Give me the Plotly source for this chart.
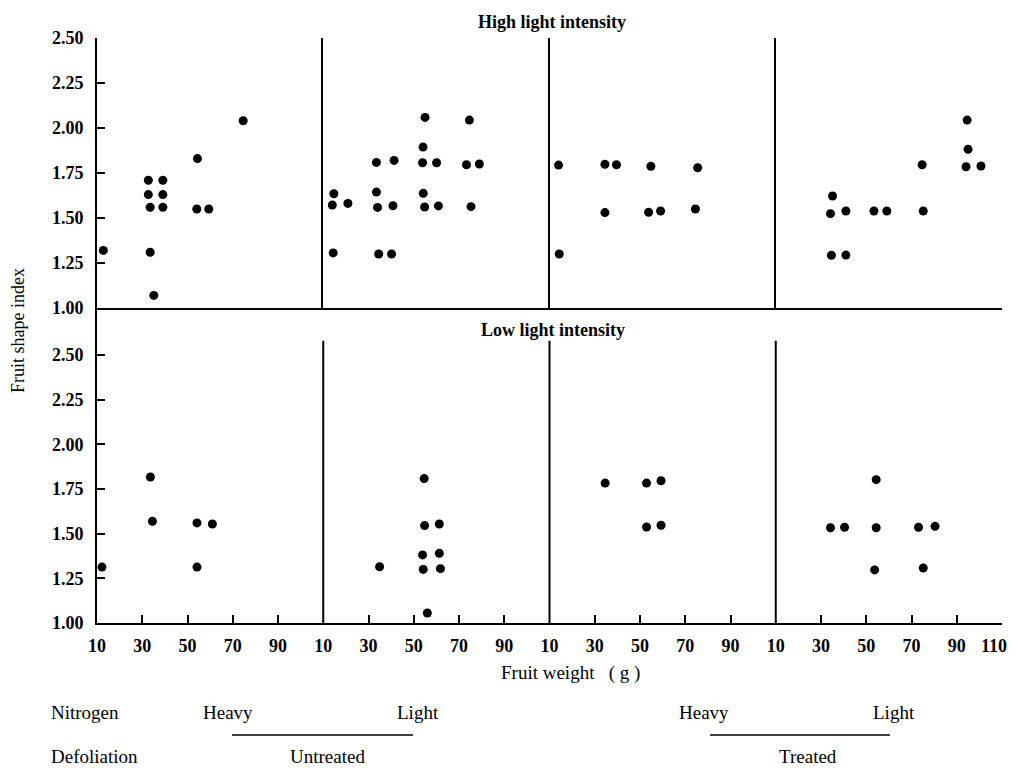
import plotly.graph_objects as go
from plotly.subplots import make_subplots

# ---------------- data (fruit weight g, fruit shape index) ----------------
# columns: Untreated/Heavy N, Untreated/Light N, Treated/Heavy N, Treated/Light N
hi_1_x = [12.8, 32.7, 39.1, 32.7, 39.1, 33.5, 39.1, 33.5, 35.1, 54.4, 54.1, 59.4, 74.6]
hi_1_y = [1.32, 1.71, 1.71, 1.63, 1.63, 1.56, 1.56, 1.31, 1.07, 1.83, 1.55, 1.55, 2.04]

hi_2_x = [14.7, 14.0, 20.9, 14.4, 33.5, 41.3, 33.5, 34.0, 40.8, 34.5, 40.2,
          55.0, 54.1, 53.9, 60.1, 54.2, 54.8, 60.9, 74.6, 73.3, 79.0, 75.3]
hi_2_y = [1.635, 1.572, 1.581, 1.306, 1.809, 1.82, 1.644, 1.559, 1.568, 1.30, 1.30,
          2.059, 1.894, 1.807, 1.807, 1.637, 1.561, 1.567, 2.044, 1.796, 1.80, 1.563]

hi_3_x = [14.0, 14.3, 34.5, 39.6, 34.5, 54.8, 53.8, 59.1, 75.5, 74.5]
hi_3_y = [1.794, 1.30, 1.798, 1.796, 1.53, 1.787, 1.532, 1.539, 1.779, 1.55]

hi_4_x = [35.1, 34.2, 41.0, 34.6, 41.0, 53.4, 59.1, 74.7, 75.2, 94.6, 95.0, 94.1, 100.7]
hi_4_y = [1.622, 1.524, 1.539, 1.293, 1.294, 1.539, 1.539, 1.796, 1.539, 2.044, 1.882, 1.785, 1.789]

lo_1_x = [12.2, 33.6, 34.5, 54.2, 61.0, 54.2]
lo_1_y = [1.313, 1.817, 1.569, 1.560, 1.554, 1.313]

lo_2_x = [54.6, 54.8, 61.3, 53.9, 61.3, 54.2, 61.8, 34.9, 56.0]
lo_2_y = [1.808, 1.545, 1.554, 1.381, 1.39, 1.30, 1.304, 1.315, 1.056]

lo_3_x = [34.6, 52.9, 59.3, 52.9, 59.3]
lo_3_y = [1.783, 1.783, 1.796, 1.537, 1.547]

lo_4_x = [54.4, 34.2, 40.4, 54.4, 73.1, 80.4, 53.7, 75.2]
lo_4_y = [1.802, 1.533, 1.536, 1.533, 1.536, 1.541, 1.297, 1.308]

y_ticks = [1.00, 1.25, 1.50, 1.75, 2.00, 2.25, 2.50]
x_ticks = [10, 30, 50, 70, 90]
x_tick_end = 110

row_titles = ["High light intensity", "Low light intensity"]
nitrogen_labels = ["Heavy", "Light", "Heavy", "Light"]
defoliation_labels = ["Untreated", "Treated"]

# ---------------- figure ----------------
# page body has an 8px margin on every side; keep the page inside the window
OFF = 8
W, H = 1018 - 2 * OFF, 774 - 2 * OFF
ML, MT = 97 - OFF, 38 - OFF
MR = (1018 - OFF) - 1002
MB = (774 - OFF) - 623
PW, PH = W - ML - MR, H - MT - MB

def fx(px):  # window pixel -> paper
    return (px - OFF - ML) / PW

def fy(py):
    return (H - MB - (py - OFF)) / PH

fig = make_subplots(rows=2, cols=4, horizontal_spacing=0, vertical_spacing=0,
                    row_heights=[270, 315])

panels = [
    (1, 1, hi_1_x, hi_1_y), (1, 2, hi_2_x, hi_2_y), (1, 3, hi_3_x, hi_3_y), (1, 4, hi_4_x, hi_4_y),
    (2, 1, lo_1_x, lo_1_y), (2, 2, lo_2_x, lo_2_y), (2, 3, lo_3_x, lo_3_y), (2, 4, lo_4_x, lo_4_y),
]
for r, c, xs, ys in panels:
    fig.add_trace(go.Scatter(x=xs, y=ys, mode="markers",
                             marker=dict(color="black", size=9, line=dict(width=0)),
                             showlegend=False, hoverinfo="x+y"), row=r, col=c)

tick_font = dict(family="Liberation Serif", size=18, color="black", weight="bold")
line_w = 2

for r in (1, 2):
    for c in (1, 2, 3, 4):
        xa = dict(range=[10, 110], showgrid=False, zeroline=False, showline=True,
                  linecolor="black", linewidth=line_w, mirror=False)
        if r == 1:
            xa.update(ticks="", showticklabels=False)
        else:
            tv = list(x_ticks) + ([x_tick_end] if c == 4 else [])
            tt = [str(v) for v in x_ticks] + ([""] if c == 4 else [])
            xa.update(ticks="inside", ticklen=8, tickwidth=2, tickcolor="black",
                      tickvals=tv, ticktext=tt, tickfont=tick_font, ticklabelstandoff=5)
        fig.update_xaxes(xa, row=r, col=c)

        yr = [1.0, 2.5] if r == 1 else [1.0, 1.0 + 315 / 178.7]
        ya = dict(range=yr, showgrid=False, zeroline=False,
                  linecolor="black", linewidth=line_w)
        if c == 1:
            ya.update(showline=True, ticks="inside", ticklen=8, tickwidth=2, tickcolor="black",
                      tickvals=y_ticks, ticktext=["%.2f" % v for v in y_ticks],
                      tickfont=tick_font, ticklabelstandoff=8)
        else:
            ya.update(showline=(r == 1), ticks="", showticklabels=False)
        fig.update_yaxes(ya, row=r, col=c)

# label of the end tick, kept inside the page edge
fig.add_annotation(xref="x8", yref="y8", x=x_tick_end, y=1.0, text=str(x_tick_end),
                   showarrow=False, xanchor="right", yanchor="middle", xshift=7, yshift=-23,
                   font=tick_font)

# vertical dividers in lower row (start below the row title)
for ax in ("6", "7", "8"):
    xd = fig.layout["xaxis" + ax].domain[0]
    fig.add_shape(type="line", xref="paper", yref="y" + ax, x0=xd, x1=xd, y0=1.0, y1=2.58,
                  line=dict(color="black", width=line_w))

ann_font = dict(family="Liberation Serif", size=19, color="black")
ann_bold = dict(family="Liberation Serif", size=18, color="black", weight="bold")

anns = [
    dict(text=row_titles[0], x=fx(552), y=fy(22), font=ann_bold),
    dict(text=row_titles[1], x=fx(553), y=fy(330), font=ann_bold),
    dict(text="Fruit weight&nbsp;&nbsp;&nbsp;( g )", x=fx(570), y=fy(673), font=ann_font),
    dict(text="Nitrogen", x=fx(49), y=fy(712), xanchor="left", font=ann_font),
    dict(text=nitrogen_labels[0], x=fx(228), y=fy(712), font=ann_font),
    dict(text=nitrogen_labels[1], x=fx(418), y=fy(712), font=ann_font),
    dict(text=nitrogen_labels[2], x=fx(704), y=fy(712), font=ann_font),
    dict(text=nitrogen_labels[3], x=fx(894), y=fy(712), font=ann_font),
    dict(text="Defoliation", x=fx(49), y=fy(756), xanchor="left", font=ann_font),
    dict(text=defoliation_labels[0], x=fx(327), y=fy(756), font=ann_font),
    dict(text=defoliation_labels[1], x=fx(808), y=fy(756), font=ann_font),
]
for a in anns:
    fig.add_annotation(xref="paper", yref="paper", showarrow=False,
                       xanchor=a.get("xanchor", "center"), yanchor="middle",
                       x=a["x"], y=a["y"], text=a["text"], font=a["font"])

fig.add_annotation(xref="paper", yref="paper", showarrow=False, textangle=-90,
                   x=fx(18), y=fy(331), xanchor="center", yanchor="middle",
                   text="Fruit shape index",
                   font=dict(family="Liberation Serif", size=18, color="black"))

for x0, x1 in ((232, 413), (710, 890)):
    fig.add_shape(type="line", xref="paper", yref="paper", x0=fx(x0), x1=fx(x1),
                  y0=fy(735), y1=fy(735), line=dict(color="black", width=1.5))

fig.update_layout(width=W, height=H, margin=dict(l=ML, r=MR, t=MT, b=MB),
                  paper_bgcolor="white", plot_bgcolor="white", showlegend=False)

fig.write_html("out.html")
